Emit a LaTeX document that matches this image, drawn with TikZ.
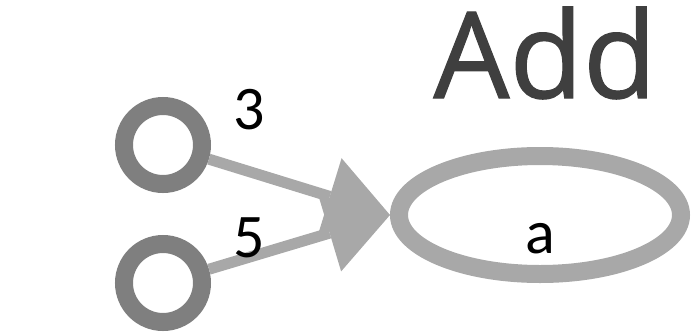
\documentclass[tikz,border=0pt]{standalone}
\usepackage{fontspec}
\setmainfont{Carlito}
\newfontfamily\titlefont[FakeBold=1]{Open Sans}
\usetikzlibrary{arrows.meta, positioning, shapes.geometric}
\definecolor{ringgray}{HTML}{7F7F7F}
\definecolor{linkgray}{HTML}{A8A8A8}
\definecolor{titlegray}{HTML}{3F3F3F}

\begin{document}
\begin{tikzpicture}[on grid, >={Triangle[length=63pt, width=80pt, line width=0pt, fill=linkgray]},
	font=\fontsize{62}{70}\selectfont,
	input/.style={circle, draw=ringgray, line width=18pt, minimum size=78pt, inner sep=0pt},
	op/.style={ellipse, draw=linkgray, line width=18pt, minimum width=282pt, minimum height=118pt, inner sep=0pt, text height=76pt, text depth=0pt},
	link/.style={draw=linkgray, line width=11pt},
	num/.style={inner sep=0pt, pos=.22}]
	\useasboundingbox (-540pt,-120pt) rectangle (152pt,215pt);
	\node[op] (a) {a};
	\node[input, above left=70pt and 377pt of a] (x1) {};
	\node[input, below left=68pt and 377pt of a] (x2) {};
	\node[anchor=base, text=titlegray, font=\titlefont\fontsize{120}{124}\selectfont] (add) at ([shift={(5pt,117pt)}]a.center) {Add};
	
	\path[->, link]
	(x1) edge node[num, above=36pt] {3} (a.west)
	(x2) edge node[num, above=-6pt] {5} (a.west);
\end{tikzpicture}
\end{document}
